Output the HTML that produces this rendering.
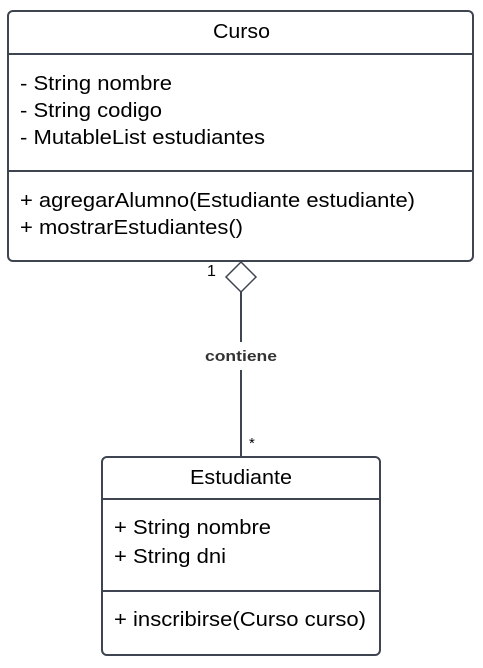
<!DOCTYPE html>
<html><head><style>
body{margin:0;width:483px;height:663px;background:#fff;overflow:hidden}
svg text{font-family:"Liberation Sans",sans-serif;fill:#000}
</style></head><body>
<svg width="483" height="663" xmlns="http://www.w3.org/2000/svg">
<g stroke="#3e4450" stroke-width="2" fill="none">
<rect x="8" y="11" width="465" height="250" rx="5"/>
<line x1="8" y1="54" x2="473" y2="54"/>
<line x1="8" y1="171" x2="473" y2="171"/>
<rect x="102" y="457" width="278" height="198" rx="5"/>
<line x1="102" y1="499" x2="380" y2="499"/>
<line x1="102" y1="591" x2="380" y2="591"/>
<polygon points="241,262 256,277 241,292 226,277" fill="#fff" stroke-width="1.5"/>
<line x1="241" y1="292" x2="241" y2="342"/>
<line x1="241" y1="370" x2="241" y2="457"/>
</g>
<g font-size="20">
<text x="213" y="38" textLength="57" lengthAdjust="spacingAndGlyphs">Curso</text>
<text x="20" y="90" textLength="152" lengthAdjust="spacingAndGlyphs">- String nombre</text>
<text x="20" y="117" textLength="142" lengthAdjust="spacingAndGlyphs">- String codigo</text>
<text x="20" y="144" textLength="245" lengthAdjust="spacingAndGlyphs">- MutableList estudiantes</text>
<text x="20" y="207" textLength="395" lengthAdjust="spacingAndGlyphs">+ agregarAlumno(Estudiante estudiante)</text>
<text x="20" y="234" textLength="223" lengthAdjust="spacingAndGlyphs">+ mostrarEstudiantes()</text>
<text x="190" y="484" textLength="102" lengthAdjust="spacingAndGlyphs">Estudiante</text>
<text x="114" y="534" textLength="157" lengthAdjust="spacingAndGlyphs">+ String nombre</text>
<text x="114" y="563" textLength="112" lengthAdjust="spacingAndGlyphs">+ String dni</text>
<text x="114" y="626" textLength="252" lengthAdjust="spacingAndGlyphs">+ inscribirse(Curso curso)</text>
</g>
<text x="205" y="361" font-size="15" font-weight="bold" textLength="72" lengthAdjust="spacingAndGlyphs" style="fill:#333">contiene</text>
<text x="207" y="276" font-size="16">1</text>
<text x="249" y="448" font-size="15">*</text>
</svg>
</body></html>
